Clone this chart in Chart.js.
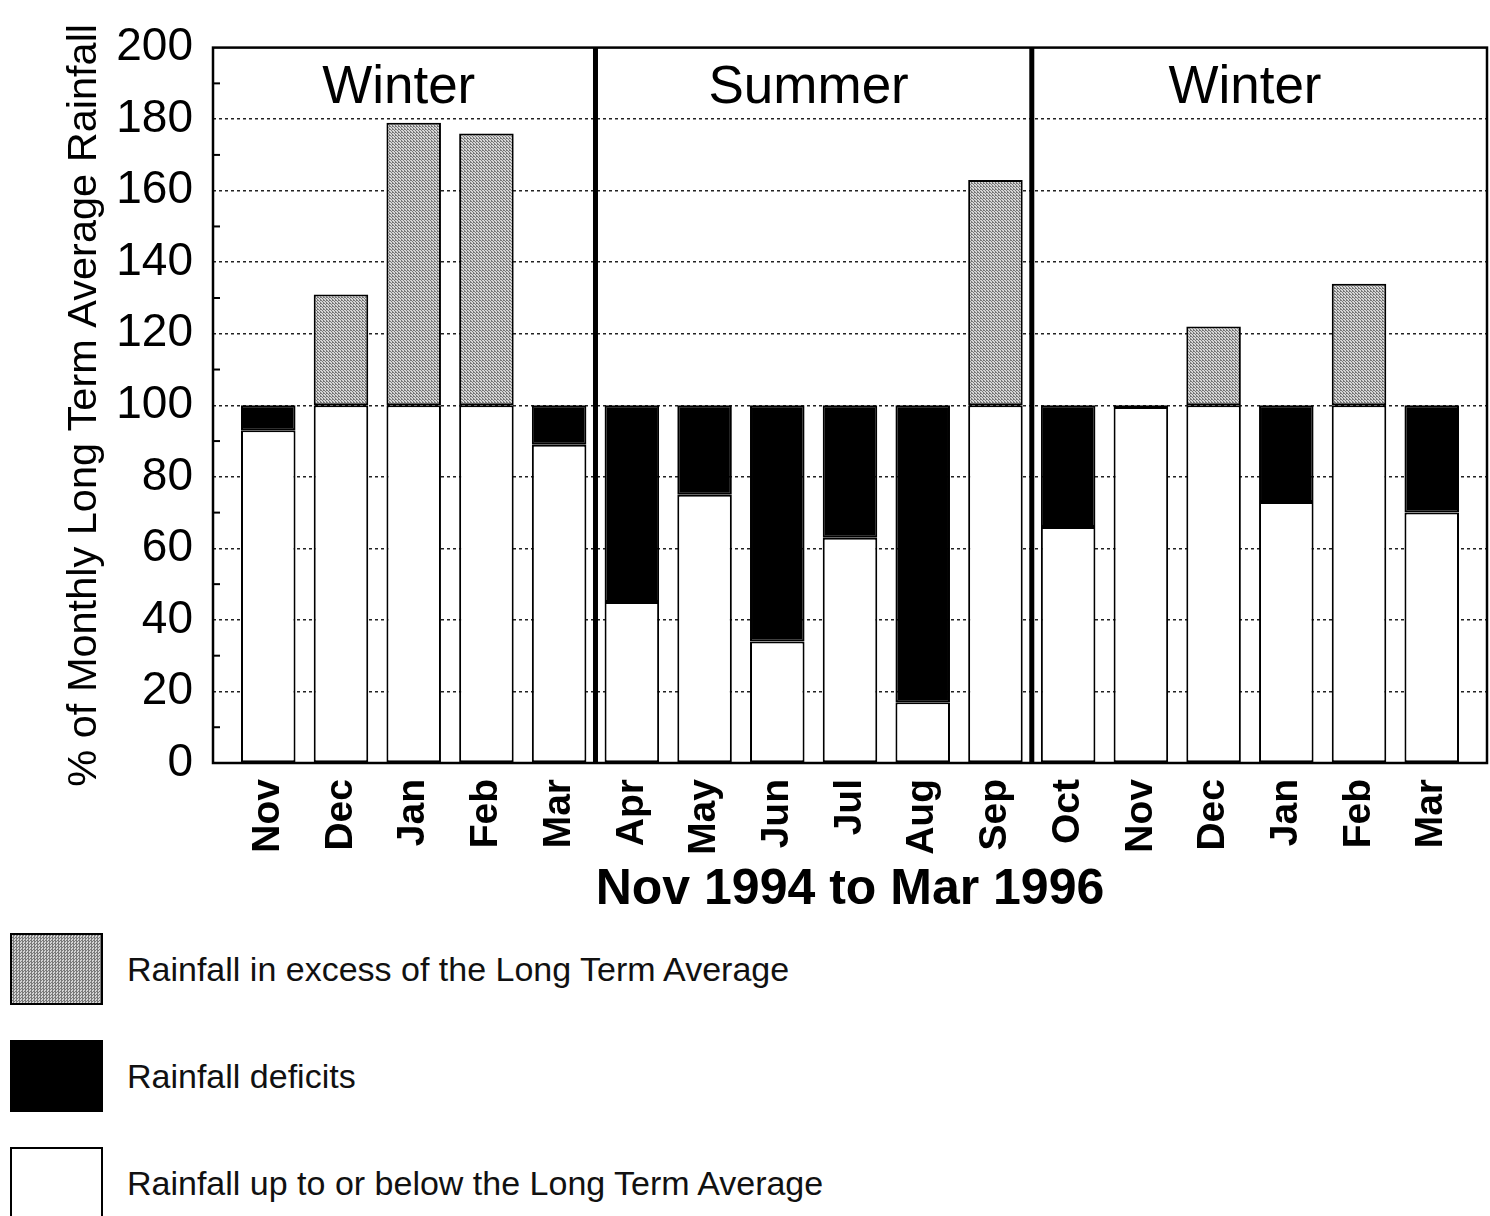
<!DOCTYPE html>
<html lang="en">
  <head>
    <meta charset="UTF-8" />
    <title>Monthly Rainfall Nov 1994 to Mar 1996</title>
    <script src="https://cdn.jsdelivr.net/npm/chart.js"></script>
    <style>
      html, body { margin: 0; background: #fff; overflow: hidden; font-family: "Liberation Sans", Arial, sans-serif; }
      #wrap { position: relative; width: 1490px; height: 920px; }
      .key { position: absolute; left: 10px; width: 93px; height: 72px; box-sizing: border-box; }
      .key-text { position: absolute; left: 127px; font-size: 34px; color: #111; line-height: 72px; }
      .excess { border: 2px solid #000; background: repeating-conic-gradient(#7a7a7a 0 25%, #d4d4d4 0 50%) 0 0 / 3px 3px; }
      .deficit { background: #000; }
      .below { border: 2px solid #000; border-bottom: none; background: #fff; }
    </style>
  </head>
  <body>
    <div id="wrap"><canvas id="myChart"></canvas></div>

    <div class="key excess" style="top: 933px"></div>
    <div class="key-text" style="top: 933px">Rainfall in excess of the Long Term Average</div>
    <div class="key deficit" style="top: 1040px"></div>
    <div class="key-text" style="top: 1040px">Rainfall deficits</div>
    <div class="key below" style="top: 1147px; height: 69px"></div>
    <div class="key-text" style="top: 1147px">Rainfall up to or below the Long Term Average</div>

    <script>
      // months Nov 1994 .. Mar 1996
      const months = ["Nov", "Dec", "Jan", "Feb", "Mar", "Apr", "May", "Jun", "Jul", "Aug", "Sep", "Oct", "Nov", "Dec", "Jan", "Feb", "Mar"];
      // % of monthly long term average
      const rainfall = [93, 131, 179, 176, 89, 45, 75, 34, 63, 17, 163, 66, 99.5, 122, 73, 134, 70];
      const average = 100;

      const seasons = ["Winter", "Summer", "Winter"];
      const seasonFirst = [0, 5, 11];
      const seasonLast = [4, 10, 16];

      const yTicks = [0, 20, 40, 60, 80, 100, 120, 140, 160, 180, 200];
      const minorTicks = [10, 30, 50, 70, 90, 110, 130, 150, 170, 190];

      // stacked pieces built from the rainfall values
      const belowPart = rainfall.map((v) => Math.min(v, average));
      const deficitPart = rainfall.map((v) => (v < average ? average - v : 0));
      const excessPart = rainfall.map((v) => (v > average ? v - average : 0));
      const pts = (arr) => arr.map((v, i) => ({ x: i, y: v }));

      // stipple pattern for the excess bars
      const pc = document.createElement("canvas");
      pc.width = 3;
      pc.height = 3;
      const pctx = pc.getContext("2d");
      pctx.fillStyle = "#d6d6d6";
      pctx.fillRect(0, 0, 3, 3);
      pctx.fillStyle = "#777";
      pctx.fillRect(0, 0, 1, 1);
      pctx.fillRect(1, 1, 1, 1);
      pctx.fillRect(2, 2, 1, 1);
      pctx.fillRect(2, 0, 1, 1);
      const stipple = pctx.createPattern(pc, "repeat");

      const FONT = "'Liberation Sans', Arial, sans-serif";

      const decorations = {
        id: "decorations",
        afterDatasetsDraw(chart) {
          const { ctx, chartArea: a, scales } = chart;
          const x = scales.x;
          const y = scales.y;
          ctx.save();
          ctx.strokeStyle = "#000";

          ctx.lineWidth = 2;
          minorTicks.forEach((v) => {
            const py = y.getPixelForValue(v);
            ctx.beginPath();
            ctx.moveTo(a.left, py);
            ctx.lineTo(a.left + 7, py);
            ctx.stroke();
          });

          // season separators
          ctx.lineWidth = 5;
          for (let i = 1; i < seasons.length; i++) {
            const px = x.getPixelForValue(seasonFirst[i] - 0.5);
            ctx.beginPath();
            ctx.moveTo(px, a.top);
            ctx.lineTo(px, a.bottom);
            ctx.stroke();
          }

          ctx.lineWidth = 2.5;
          ctx.strokeRect(a.left, a.top, a.right - a.left, a.bottom - a.top);

          ctx.fillStyle = "#000";
          ctx.font = "53px " + FONT;
          ctx.textAlign = "center";
          ctx.textBaseline = "middle";
          seasons.forEach((s, i) => {
            const px = x.getPixelForValue((seasonFirst[i] + seasonLast[i]) / 2) - (i === 0 ? 15 : 5);
            ctx.fillText(s, px, a.top + 41);
          });
          ctx.restore();
        },
      };

      const ctx = document.getElementById("myChart").getContext("2d");
      const myChart = new Chart(ctx, {
        type: "bar",
        data: {
          datasets: [
            {
              label: "Rainfall up to or below the Long Term Average",
              data: pts(belowPart),
              backgroundColor: "#fff",
              borderColor: "#000",
              borderWidth: 2,
            },
            {
              label: "Rainfall deficits",
              data: pts(deficitPart),
              backgroundColor: "#000",
              borderColor: "#000",
              borderWidth: 2,
            },
            {
              label: "Rainfall in excess of the Long Term Average",
              data: pts(excessPart),
              backgroundColor: stipple,
              borderColor: "#000",
              borderWidth: 2,
            },
          ],
        },
        options: {
          responsive: true,
          maintainAspectRatio: false,
          animation: false,
          layout: { padding: { top: 46, right: 3, left: 0, bottom: 0 } },
          datasets: { bar: { categoryPercentage: 1, barPercentage: 0.75, borderSkipped: false } },
          plugins: { legend: { display: false }, tooltip: { enabled: false } },
          scales: {
            x: {
              type: "linear",
              stacked: true,
              offset: false,
              min: -0.76,
              max: 16.76,
              afterBuildTicks: (s) => {
                s.ticks = months.map((m, i) => ({ value: i }));
              },
              afterFit: (s) => {
                s.height = 157;
                s.paddingLeft = 0;
                s.paddingRight = 0;
              },
              grid: { display: false, drawTicks: false },
              border: { display: false },
              ticks: {
                autoSkip: false,
                minRotation: 90,
                maxRotation: 90,
                padding: 16,
                color: "#000",
                font: { family: FONT, size: 39, weight: "bold" },
                callback: (v) => months[v],
              },
              title: {
                display: true,
                text: "Nov 1994 to Mar 1996",
                color: "#000",
                padding: { top: 0, bottom: 0 },
                font: { family: FONT, size: 50, weight: "bold" },
              },
            },
            y: {
              stacked: true,
              min: 0,
              max: 200,
              afterBuildTicks: (s) => {
                s.ticks = yTicks.map((v) => ({ value: v }));
              },
              afterFit: (s) => {
                s.width = 213;
              },
              grid: {
                drawTicks: false,
                lineWidth: 1.5,
                color: (c) => (c.tick.value === 0 || c.tick.value === 200 ? "rgba(0,0,0,0)" : "#222"),
              },
              border: { display: false, dash: [3, 3] },
              ticks: {
                padding: 20,
                color: "#000",
                font: { family: FONT, size: 46 },
              },
              title: {
                display: true,
                text: "% of Monthly Long Term Average Rainfall",
                color: "#000",
                padding: { top: 60, bottom: 0 },
                font: { family: FONT, size: 41.5 },
              },
            },
          },
        },
        plugins: [decorations],
      });
    </script>
  </body>
</html>
